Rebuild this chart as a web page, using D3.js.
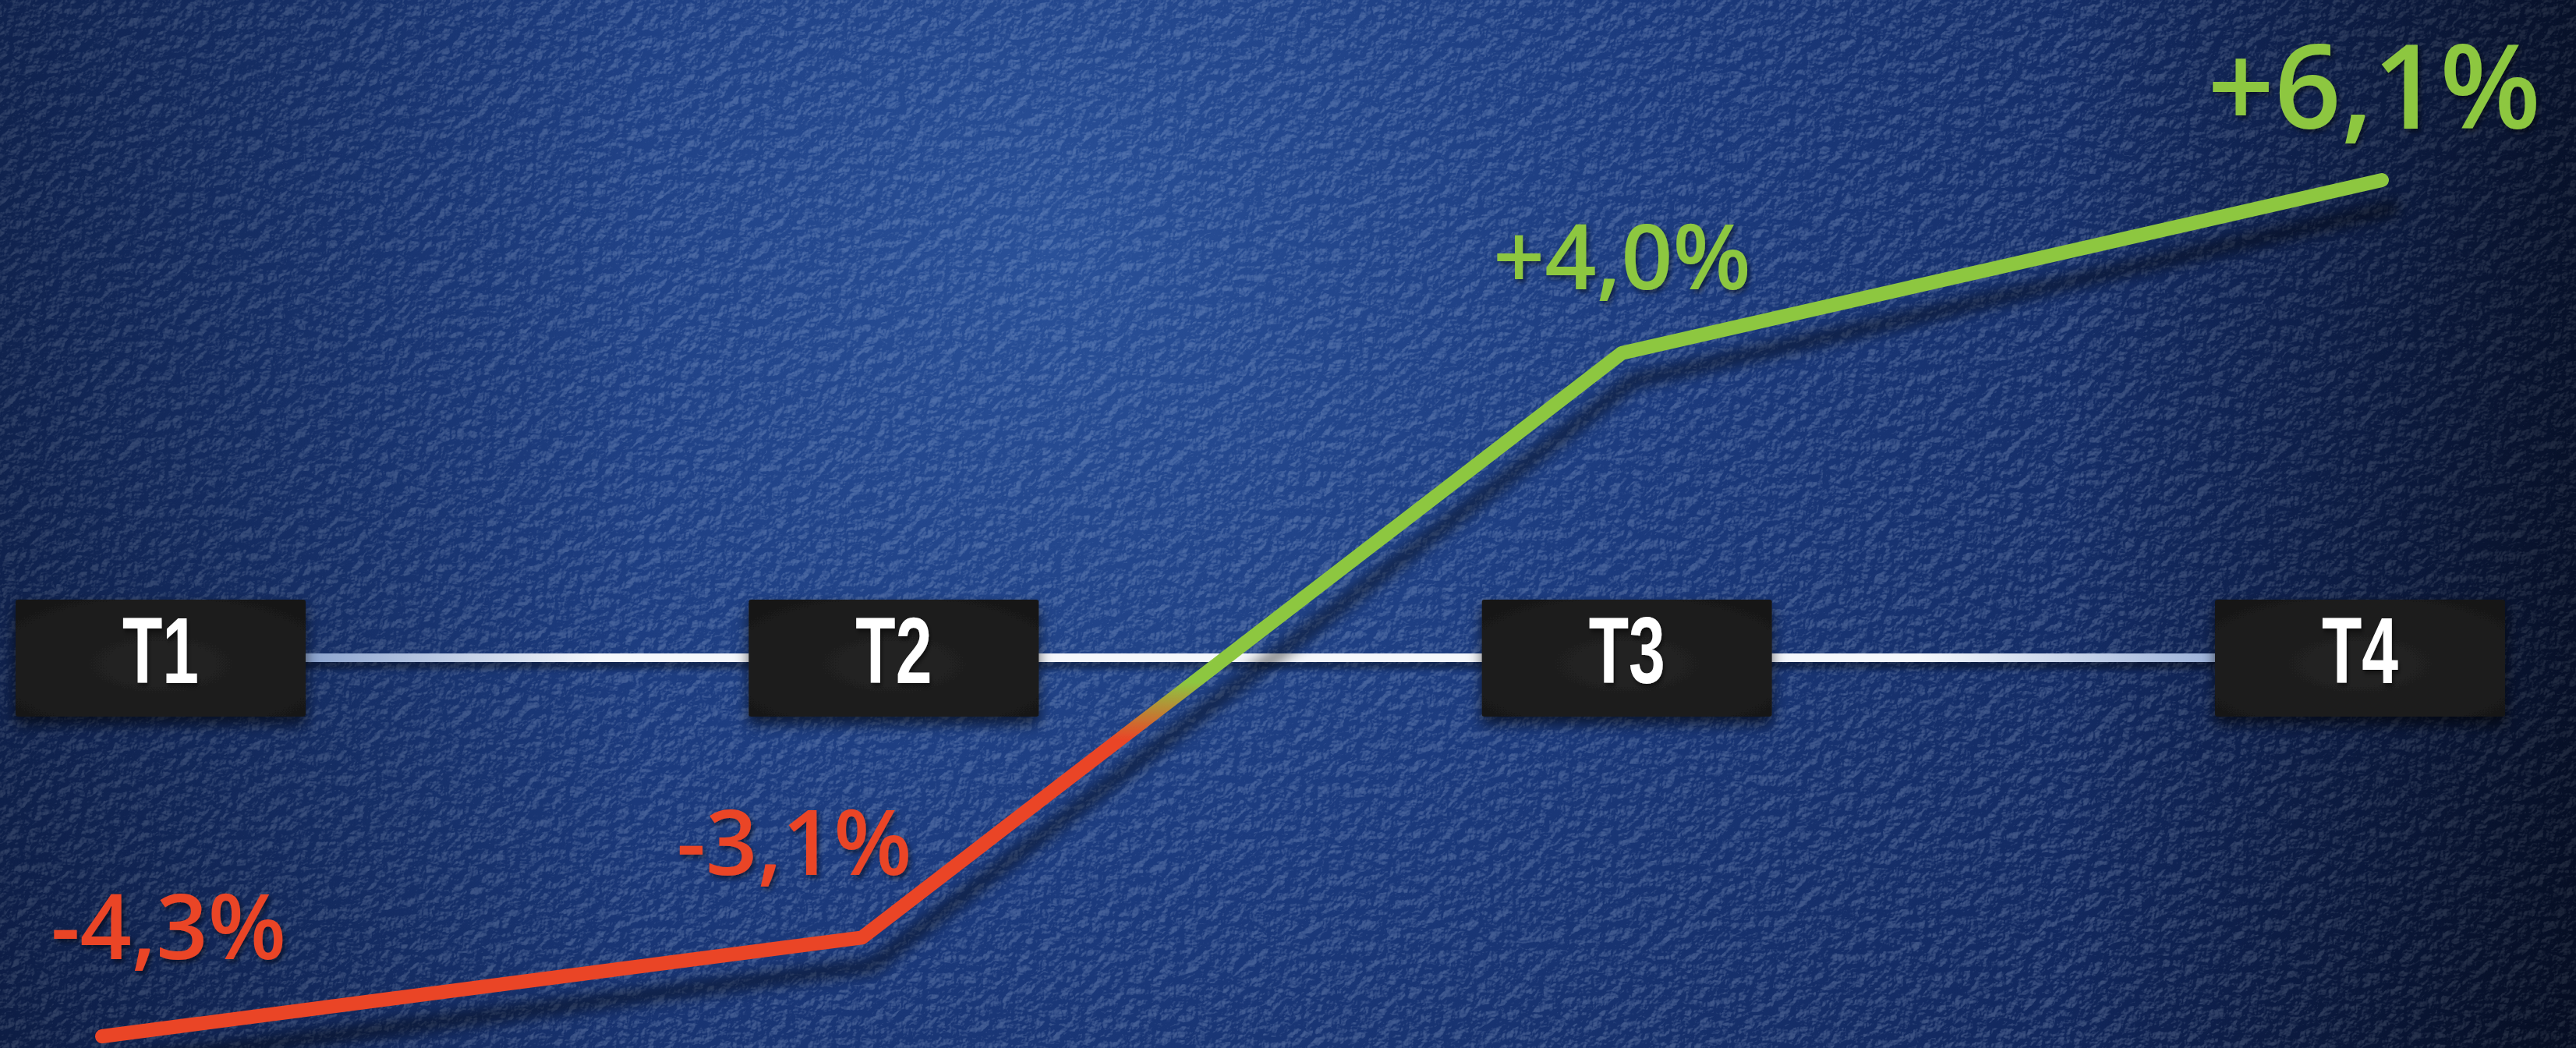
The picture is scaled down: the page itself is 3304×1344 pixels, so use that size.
<!DOCTYPE html>
<html>
<head>
<meta charset="utf-8">
<script src="https://cdn.jsdelivr.net/npm/d3@7"></script>
<style>
  html, body { margin: 0; padding: 0; background: #10224f; overflow: hidden; }
</style>
</head>
<body>
<div id="chart"></div>
<script>
// data
const periods = ['T1', 'T2', 'T3', 'T4'];
const values = [-4.3, -3.1, 4.0, 6.1];

const width = 3304, height = 1344;
const red = '#ea4427', green = '#8dc741';

// comma decimal, plain hyphen minus
const locale = d3.formatLocale({ decimal: ',', thousands: '.', grouping: [3], currency: ['', '€'], minus: '-' });
const fmt = v => locale.format('+.1f')(v) + '%';

const svg = d3.select('#chart').append('svg')
  .attr('width', width).attr('height', height);

const defs = svg.append('defs');

// background
const bg = defs.append('radialGradient').attr('id', 'bg')
  .attr('gradientUnits', 'userSpaceOnUse')
  .attr('cx', 1350).attr('cy', 330).attr('r', 2300);
bg.append('stop').attr('offset', 0).attr('stop-color', '#2a5199');
bg.append('stop').attr('offset', 0.35).attr('stop-color', '#1c3b7e');
bg.append('stop').attr('offset', 0.7).attr('stop-color', '#12285e');
bg.append('stop').attr('offset', 1).attr('stop-color', '#081538');

const tex = defs.append('filter').attr('id', 'tex')
  .attr('filterUnits', 'userSpaceOnUse')
  .attr('x', 0).attr('y', 0).attr('width', width).attr('height', height);
tex.append('feTurbulence').attr('type', 'fractalNoise')
  .attr('baseFrequency', 0.07).attr('numOctaves', 4).attr('seed', 7).attr('result', 'n');
tex.append('feDiffuseLighting').attr('in', 'n').attr('surfaceScale', 4)
  .attr('lighting-color', '#ffffff').attr('result', 'l')
  .append('feDistantLight').attr('azimuth', 235).attr('elevation', 50);
tex.append('feColorMatrix').attr('in', 'l').attr('type', 'matrix')
  .attr('values', '0 0 0 0 0.7  0 0 0 0 0.82  0 0 0 0 1  1.8 0 0 0 -1.25');

const vig = defs.append('linearGradient').attr('id', 'vig')
  .attr('x1', 0).attr('x2', 1).attr('y1', 0).attr('y2', 0);
vig.append('stop').attr('offset', 0).attr('stop-color', '#000').attr('stop-opacity', 0.25);
vig.append('stop').attr('offset', 0.25).attr('stop-color', '#000').attr('stop-opacity', 0);
vig.append('stop').attr('offset', 0.8).attr('stop-color', '#000').attr('stop-opacity', 0);
vig.append('stop').attr('offset', 1).attr('stop-color', '#000').attr('stop-opacity', 0.45);

svg.append('rect').attr('width', width).attr('height', height).attr('fill', 'url(#bg)');
svg.append('rect').attr('width', width).attr('height', height)
  .attr('filter', 'url(#tex)').attr('opacity', 0.4);
svg.append('rect').attr('width', width).attr('height', height).attr('fill', 'url(#vig)');

// shadows (big user-space region so translated groups are not clipped)
const shadow = (id, dx, dy, sd, op) => {
  defs.append('filter').attr('id', id)
    .attr('filterUnits', 'userSpaceOnUse')
    .attr('x', -width).attr('y', -height).attr('width', width * 3).attr('height', height * 3)
    .append('feDropShadow').attr('dx', dx).attr('dy', dy)
    .attr('stdDeviation', sd).attr('flood-color', '#000').attr('flood-opacity', op);
};
shadow('lineShadow', 14, 36, 9, 0.5);
shadow('boxShadow', 0, 10, 9, 0.6);
shadow('tlShadow', 0, 8, 4, 0.45);
shadow('textShadow', 3, 4, 3, 0.5);

// scales
const xBox = d3.scalePoint().domain(periods).range([206, 3027]);
const xLine = d3.scalePoint().domain(periods).range([131, 3055]);
const y = d3.scaleLinear().domain([-4.3, 6.1]).range([1329, 231]);
const baseY = 844;
const boxW = 372, boxH = 150;

// timeline
const x0 = xBox(periods[0]), x1 = xBox(periods[periods.length - 1]);
const tl = defs.append('linearGradient').attr('id', 'tl')
  .attr('gradientUnits', 'userSpaceOnUse')
  .attr('x1', x0).attr('x2', x1).attr('y1', 0).attr('y2', 0);
tl.append('stop').attr('offset', 0.07).attr('stop-color', '#8ea6d0');
tl.append('stop').attr('offset', 0.2).attr('stop-color', '#f4f7fc');
tl.append('stop').attr('offset', 0.8).attr('stop-color', '#f4f7fc');
tl.append('stop').attr('offset', 0.93).attr('stop-color', '#9fb4da');

svg.append('rect')
  .attr('x', x0).attr('width', x1 - x0)
  .attr('y', baseY - 6).attr('height', 11)
  .attr('fill', 'url(#tl)')
  .attr('filter', 'url(#tlShadow)');

// boxes
const boxFill = defs.append('radialGradient').attr('id', 'boxFill')
  .attr('cx', 0.5).attr('cy', 0.55).attr('r', 0.75);
boxFill.append('stop').attr('offset', 0).attr('stop-color', '#232323');
boxFill.append('stop').attr('offset', 1).attr('stop-color', '#171717');

const boxes = svg.append('g').selectAll('g')
  .data(periods)
  .join('g')
  .attr('transform', d => `translate(${xBox(d)},${baseY})`);

boxes.append('rect')
  .attr('x', -boxW / 2).attr('y', -boxH / 2)
  .attr('width', boxW).attr('height', boxH)
  .attr('rx', 3)
  .attr('fill', 'url(#boxFill)')
  .attr('filter', 'url(#boxShadow)');

// condensed look: squeeze the bold sans horizontally
boxes.append('text')
  .attr('text-anchor', 'middle')
  .attr('transform', 'scale(0.7,1)')
  .attr('dy', 32)
  .attr('font-family', '"Liberation Sans", Arial, sans-serif')
  .attr('font-weight', 700)
  .attr('font-size', 120)
  .attr('fill', '#ffffff')
  .attr('filter', 'url(#textShadow)')
  .text(d => d);

// performance line
const points = periods.map((p, i) => ({ period: p, value: values[i] }));

const lg = defs.append('linearGradient').attr('id', 'lineGrad')
  .attr('gradientUnits', 'userSpaceOnUse')
  .attr('x1', 0).attr('x2', 0).attr('y1', y(-0.7)).attr('y2', y(0));
lg.append('stop').attr('offset', 0).attr('stop-color', red);
lg.append('stop').attr('offset', 1).attr('stop-color', green);

const line = d3.line()
  .x(d => xLine(d.period))
  .y(d => y(d.value));

svg.append('path')
  .datum(points)
  .attr('d', line)
  .attr('fill', 'none')
  .attr('stroke', 'url(#lineGrad)')
  .attr('stroke-width', 18)
  .attr('stroke-linecap', 'round')
  .attr('stroke-linejoin', 'round')
  .attr('filter', 'url(#lineShadow)');

// value labels
const labelDx = [85, -87, 0, -10];
const labelDy = [-99, -80, -82, -66];

svg.append('g').selectAll('text')
  .data(points)
  .join('text')
  .attr('x', (d, i) => xLine(d.period) + labelDx[i])
  .attr('y', (d, i) => y(d.value) + labelDy[i])
  .attr('text-anchor', 'middle')
  .attr('font-family', '"Open Sans", "Noto Sans", sans-serif')
  .attr('font-weight', 600)
  .attr('font-size', (d, i) => i === points.length - 1 ? 150 : 116)
  .attr('fill', d => d.value < 0 ? red : green)
  .attr('filter', 'url(#textShadow)')
  .text(d => fmt(d.value));
</script>
</body>
</html>
